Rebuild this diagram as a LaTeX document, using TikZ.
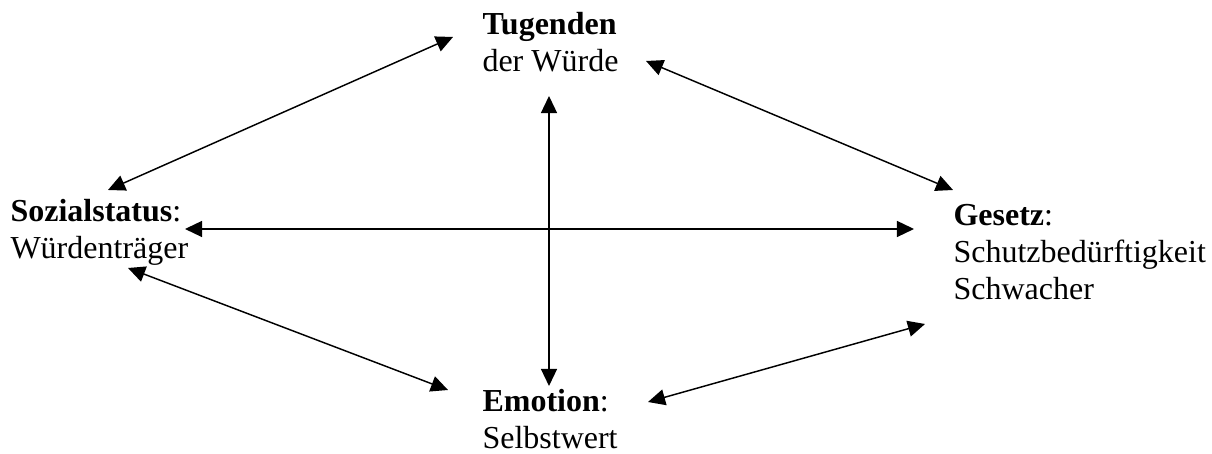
\documentclass[tikz,border=0pt]{standalone}
\usepackage{fontspec}
\setmainfont{Liberation Serif}
\usetikzlibrary{arrows.meta,calc}

\tikzset{
  label text/.style={anchor=base west,inner sep=0pt,align=left,font=\fontsize{12}{13.9}\selectfont},
  link/.style={line width=0.55pt,{Triangle[length=6.4pt,width=6pt]}-{Triangle[length=6.4pt,width=6pt]}}
}

\begin{document}
\begin{tikzpicture}[x=0.375pt,y=-0.375pt]
\useasboundingbox (0,0) rectangle (1212,454);

% the four corners (base = last line)
\node[label text] (T) at (482,72) {\textbf{Tugenden}\\der Würde};
\node[label text] (S) at (10,259) {\textbf{Sozialstatus}:\\Würdenträger};
\node[label text] (G) at (953,300) {\textbf{Gesetz}:\\Schutzbedürftigkeit\\Schwacher};
\node[label text] (E) at (482,449) {\textbf{Emotion}:\\Selbstwert};

% arrow ends
\coordinate (TL) at (453,37);  \coordinate (ST) at (108,190);
\coordinate (TR) at (646,61);  \coordinate (GT) at (953,190);
\coordinate (SR) at (185,229); \coordinate (GL) at (914,229);
\coordinate (SB) at (128,268); \coordinate (EL) at (448,390);
\coordinate (ER) at (648,402); \coordinate (GB) at (925,324);
\coordinate (TB) at (549,96);  \coordinate (ET) at (549,386);

\draw[link] (ST) -- (TL);
\draw[link] (TR) -- (GT);
\draw[link] (SR) -- (GL);
\draw[link] (SB) -- (EL);
\draw[link] (ER) -- (GB);
\draw[link] (TB) -- (ET);

\end{tikzpicture}
\end{document}
